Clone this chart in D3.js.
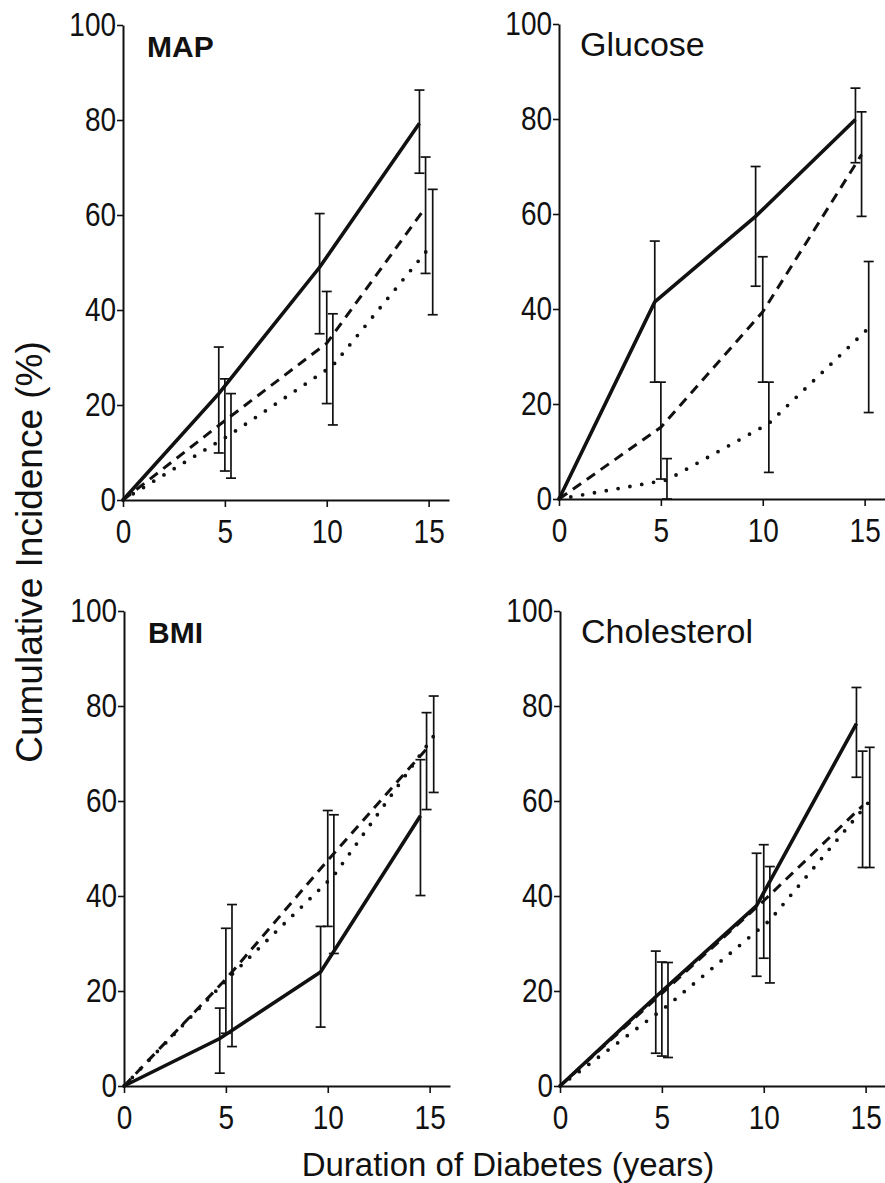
<!DOCTYPE html>
<html>
  <head>
    <title>Cumulative incidence by duration of diabetes</title>
    <script src="https://d3js.org/d3.v7.min.js"></script>
    <style type="text/css">
      body {
        margin: 0;
        background: #fff;
      }
      text {
        font-family: "Liberation Sans", Arial, Helvetica, sans-serif;
        fill: #111;
      }
    </style>
  </head>
  <body>
    <script>
      // Panel names and x ticks
      var panelNames = ["MAP", "Glucose", "BMI", "Cholesterol"];
      var xTicks = [0, 5, 10, 15];
      var yTicks = [0, 20, 40, 60, 80, 100];

      // Years at which each series was plotted (series are shifted a bit)
      var xSolid = [0, 4.7, 9.65, 14.55];
      var xDashed = [0, 5.0, 10.0, 14.85];
      var xDotted = [0, 5.3, 10.3, 15.2];

      // MAP: solid, dashed, dotted (mid, low, high)
      var mapSolid = [0, 22.4, 49, 79.3];
      var mapSolidLow = [null, 9.9, 35, 68.8];
      var mapSolidHigh = [null, 32.2, 60.3, 86.3];
      var mapDashed = [0, 16.7, 33, 61.6];
      var mapDashedLow = [null, 6.1, 20.3, 47.7];
      var mapDashedHigh = [null, 25.5, 43.9, 72.2];
      var mapDotted = [0, 13.9, 28.3, 54];
      var mapDottedLow = [null, 4.6, 15.8, 39];
      var mapDottedHigh = [null, 22.4, 39.2, 65.4];

      // Glucose
      var gluSolid = [0, 41.5, 59.5, 79.9];
      var gluSolidLow = [null, 24.6, 44.8, 70.8];
      var gluSolidHigh = [null, 54.3, 70, 86.5];
      var gluDashed = [0, 15.1, 39.4, 72.5];
      var gluDashedLow = [null, 4.2, 24.6, 59.5];
      var gluDashedHigh = [null, 24.6, 51, 81.5];
      var gluDotted = [0, 4, 15.9, 36];
      var gluDottedLow = [null, 0, 5.6, 18.2];
      var gluDottedHigh = [null, 8.5, 24.6, 50];

      // BMI
      var bmiSolid = [0, 10, 24, 56.9];
      var bmiSolidLow = [null, 2.7, 12.4, 40.1];
      var bmiSolidHigh = [null, 16.4, 33.6, 68.7];
      var bmiDashed = [0, 22.5, 47.5, 71];
      var bmiDashedLow = [null, 11.1, 33.6, 58.2];
      var bmiDashedHigh = [null, 33.2, 58, 78.6];
      var bmiDotted = [0, 23.5, 44.3, 73.7];
      var bmiDottedLow = [null, 8.3, 27.9, 61.8];
      var bmiDottedHigh = [null, 38.2, 57.1, 82.1];

      // Cholesterol
      var choSolid = [0, 18.8, 38, 76.3];
      var choSolidLow = [null, 6.9, 23.1, 65];
      var choSolidHigh = [null, 28.4, 49, 83.9];
      var choDashed = [0, 19.5, 39, 59];
      var choDashedLow = [null, 6.3, 26.9, 46];
      var choDashedHigh = [null, 26.1, 50.8, 70.5];
      var choDotted = [0, 17, 34.9, 60];
      var choDottedLow = [null, 6, 21.7, 46];
      var choDottedHigh = [null, 26, 46.2, 71.3];

      // Build the table the drawing code uses
      var panelData = [
        [[xSolid, mapSolid, mapSolidLow, mapSolidHigh], [xDashed, mapDashed, mapDashedLow, mapDashedHigh], [xDotted, mapDotted, mapDottedLow, mapDottedHigh]],
        [[xSolid, gluSolid, gluSolidLow, gluSolidHigh], [xDashed, gluDashed, gluDashedLow, gluDashedHigh], [xDotted, gluDotted, gluDottedLow, gluDottedHigh]],
        [[xSolid, bmiSolid, bmiSolidLow, bmiSolidHigh], [xDashed, bmiDashed, bmiDashedLow, bmiDashedHigh], [xDotted, bmiDotted, bmiDottedLow, bmiDottedHigh]],
        [[xSolid, choSolid, choSolidLow, choSolidHigh], [xDashed, choDashed, choDashedLow, choDashedHigh], [xDotted, choDotted, choDottedLow, choDottedHigh]]
      ];

      // Layout
      var svgWidth = 885;
      var svgHeight = 1183;
      var plotWidth = 326;
      var plotHeight = 475;
      var origins = [[123, 25], [559, 24], [124, 611], [560, 611]];
      var titleBold = [true, false, true, false];
      var capWidth = 10;
      var textStretch = 1.2;   // the scanned figure has tall, narrow digits

      var svg = d3.select("body")
                  .append("svg")
                  .attr("width", svgWidth)
                  .attr("height", svgHeight);

      var xScale = d3.scaleLinear().domain([0, 16]).range([0, plotWidth]);
      var yScale = d3.scaleLinear().domain([0, 100]).range([plotHeight, 0]);

      var lineStyles = [
        {width: 3.6, dash: null, cap: "butt"},
        {width: 3, dash: "10,7", cap: "butt"},
        {width: 3.8, dash: "0,12", cap: "round"}
      ];

      panelData.forEach(function(series, i) {
        var g = svg.append("g")
                   .attr("transform", "translate(" + origins[i][0] + "," + origins[i][1] + ")");
        drawAxes(g);
        drawSeries(g, series);

        // Panel title
        g.append("text")
         .attr("x", i % 2 == 0 ? 24 : 21)
         .attr("y", 32)
         .attr("font-size", titleBold[i] ? "30px" : "34px")
         .attr("font-weight", titleBold[i] ? "bold" : "normal")
         .text(panelNames[i]);
      });

      function drawAxes(g) {
        var xAxis = d3.axisBottom(xScale)
                      .tickValues(xTicks)
                      .tickSize(7)
                      .tickSizeOuter(0)
                      .tickPadding(9);
        var gx = g.append("g")
                  .attr("transform", "translate(0," + plotHeight + ")")
                  .call(xAxis);
        styleAxis(gx);

        var yAxis = d3.axisLeft(yScale)
                      .tickValues(yTicks)
                      .tickSize(6)
                      .tickSizeOuter(0)
                      .tickPadding(1);
        var gy = g.append("g").call(yAxis);
        styleAxis(gy);
      }

      function styleAxis(a) {
        a.attr("font-family", "Liberation Sans, Arial, sans-serif")
         .attr("font-size", "28px");
        a.select(".domain").attr("stroke", "#111").attr("stroke-width", 2);
        a.selectAll(".tick line").attr("stroke", "#111").attr("stroke-width", 1.6);
        a.selectAll(".tick text")
         .attr("fill", "#111")
         .attr("transform", "scale(1," + textStretch + ")");
      }

      function drawSeries(g, series) {
        var line = d3.line()
                     .x(function(d) { return xScale(d[0]); })
                     .y(function(d) { return yScale(d[1]); });

        series.forEach(function(s, k) {
          var pts = s[0].map(function(x, j) { return [x, s[1][j]]; });
          var style = lineStyles[k];

          g.append("path")
           .datum(pts)
           .attr("d", line)
           .attr("fill", "none")
           .attr("stroke", "#111")
           .attr("stroke-width", style.width)
           .attr("stroke-linecap", style.cap)
           .attr("stroke-dasharray", style.dash);

          // Error bars
          var bars = s[0].map(function(x, j) { return {x: x, lo: s[2][j], hi: s[3][j]}; })
                         .filter(function(d) { return d.lo != null; });

          var eb = g.append("g").attr("stroke", "#111").attr("stroke-width", 1.7);
          eb.selectAll(".bar")
            .data(bars)
            .enter()
            .append("line")
            .attr("x1", function(d) { return xScale(d.x); })
            .attr("x2", function(d) { return xScale(d.x); })
            .attr("y1", function(d) { return yScale(d.lo); })
            .attr("y2", function(d) { return yScale(d.hi); });

          ["lo", "hi"].forEach(function(key) {
            eb.selectAll(".cap-" + key)
              .data(bars)
              .enter()
              .append("line")
              .attr("x1", function(d) { return xScale(d.x) - capWidth / 2; })
              .attr("x2", function(d) { return xScale(d.x) + capWidth / 2; })
              .attr("y1", function(d) { return yScale(d[key]); })
              .attr("y2", function(d) { return yScale(d[key]); });
          });
        });
      }

      // Shared axis labels
      svg.append("text")
         .attr("transform", "translate(42,552) rotate(-90)")
         .attr("text-anchor", "middle")
         .attr("font-size", "37px")
         .text("Cumulative Incidence (%)");

      svg.append("text")
         .attr("x", 508)
         .attr("y", 1176)
         .attr("text-anchor", "middle")
         .attr("font-size", "33px")
         .text("Duration of Diabetes (years)");
    </script>
  </body>
</html>
